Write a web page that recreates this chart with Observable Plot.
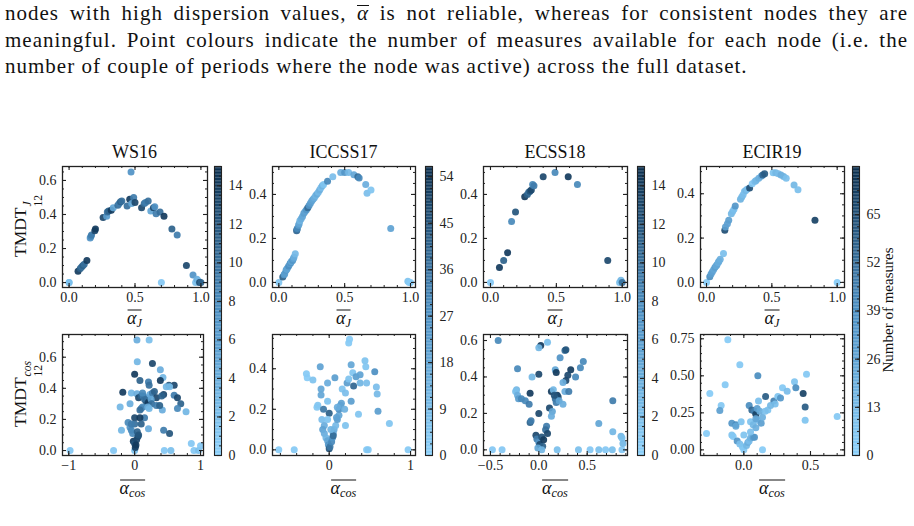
<!DOCTYPE html>
<html>
<head>
<meta charset="utf-8">
<script src="https://cdn.jsdelivr.net/npm/d3@7"></script>
<script src="https://cdn.jsdelivr.net/npm/@observablehq/plot@0.6"></script>
<style>
  body { margin: 0; background: #fff; }
  #fig { position: relative; width: 914px; height: 526px; overflow: hidden;
         font-family: "Liberation Serif", "DejaVu Serif", serif; color: #111; }
  #para { position: absolute; left: 5px; top: 0px; width: 903px; font-family: "Liberation Serif", serif;
          font-size: 21px; line-height: 26.5px; letter-spacing: 1.0px; }
  #para .j { text-align: justify; text-align-last: justify; white-space: nowrap; }
  .pbar { display: inline-block; border-top: 1.2px solid #111; line-height: 13px; padding-top: 1px; }
  .abs { position: absolute; white-space: nowrap; }
  .title { font-size: 18px; transform: translate(-50%, -50%); }
  .xlab { font-size: 18px; transform: translate(-50%, -50%); }
  .xlab .bar { display: inline-block; border-top: 1.2px solid #111; padding-top: 1px; line-height: 12px; }
  .xlab sub { font-size: 0.68em; vertical-align: -0.3em; line-height: 0; }
  .ylab { font-size: 17.5px; transform: translate(-50%, -50%) rotate(-90deg); }
  .ss { display: inline-flex; flex-direction: column; font-size: 0.66em; line-height: 0.95; vertical-align: -0.45em; margin-left: 1px; }
  .cblab { font-size: 15px; transform: translate(-50%, -50%) rotate(-90deg); }
  svg { position: absolute; overflow: visible; }
</style>
</head>
<body>
<div id="fig">
  <div id="para">
    <div class="j">nodes with high dispersion values, <i class="pbar">α</i> is not reliable, whereas for consistent nodes they are</div>
    <div class="j">meaningful. Point colours indicate the number of measures available for each node (i.e. the</div>
    <div>number of couple of periods where the node was active) across the full dataset.</div>
  </div>
</div>
<script>
// ---- dataset names and colour-bar maxima ----
const datasets = ["WS16", "ICCSS17", "ECSS18", "ECIR19"];
const measureMax = [15, 56, 15, 78];
const colorbarTicks = [
  [0, 2, 4, 6, 8, 10, 12, 14],
  [0, 9, 18, 27, 36, 45, 54],
  [0, 2, 4, 6, 8, 10, 12, 14],
  [0, 13, 26, 39, 52, 65]
];

// ---- points: [alpha, TMDT, number of measures] ----
const ws16J = [
  [0.00,0.00,1],[0.00,0.00,2],[0.068,0.066,14],[0.085,0.082,11],[0.095,0.092,10],[0.105,0.10,11],[0.115,0.108,10],
  [0.135,0.13,14],[0.16,0.262,7],[0.165,0.27,8],[0.17,0.28,9],[0.195,0.305,13],[0.20,0.315,14],[0.258,0.383,13],
  [0.285,0.39,6],[0.29,0.415,10],[0.30,0.42,11],[0.32,0.425,14],[0.335,0.44,5],[0.37,0.455,10],[0.38,0.465,9],
  [0.39,0.475,11],[0.40,0.48,10],[0.44,0.45,10],[0.46,0.49,14],[0.475,0.465,5],[0.47,0.65,7],[0.49,0.50,9],
  [0.50,0.47,13],[0.55,0.44,13],[0.57,0.465,10],[0.58,0.47,9],[0.60,0.48,10],[0.62,0.42,5],[0.64,0.44,13],
  [0.65,0.445,7],[0.66,0.405,9],[0.69,0.415,10],[0.72,0.39,14],[0.78,0.315,11],[0.82,0.28,9],[0.89,0.10,13],
  [0.94,0.045,7],[0.70,0.0,1],[0.96,0.0,2],[0.97,0.02,4],[0.98,0.01,3],[0.99,0.0,13],[1.0,0.0,11]
];
const ws16Cos = [
  [-0.98,0.0,1],[-0.32,0.0,1],[0.0,0.0,2],[0.45,0.0,1],[0.55,0.0,2],[0.86,0.045,1],[0.90,0.0,1],[0.97,0.0,2],[1.0,0.03,1],
  [0.035,0.71,4],[0.22,0.71,2],[0.04,0.57,3],[0.27,0.56,13],[0.0,0.49,14],[0.39,0.52,4],[0.43,0.47,3],[0.08,0.45,11],
  [0.21,0.44,9],[0.22,0.42,10],[0.39,0.45,14],[0.52,0.42,12],[0.60,0.42,13],[0.53,0.41,2],[-0.18,0.375,14],[-0.05,0.37,3],
  [0.035,0.365,4],[0.06,0.34,13],[0.10,0.35,11],[0.13,0.35,9],[0.17,0.32,14],[0.20,0.34,9],[0.23,0.36,4],[0.27,0.37,9],
  [0.30,0.38,11],[0.33,0.34,13],[0.15,0.33,10],[0.19,0.30,12],[0.21,0.31,14],[0.25,0.33,5],[0.26,0.30,10],[0.12,0.37,8],
  [0.44,0.36,13],[0.41,0.35,11],[0.48,0.41,3],[0.60,0.355,9],[0.65,0.34,13],[0.70,0.30,11],[0.65,0.27,8],[0.78,0.25,3],
  [0.42,0.26,4],[-0.22,0.28,3],[-0.07,0.30,4],[0.10,0.27,9],[0.12,0.28,8],[0.15,0.21,9],[0.20,0.28,4],[0.22,0.27,3],
  [0.33,0.29,9],[0.38,0.29,11],[0.08,0.26,10],[-0.10,0.18,8],[-0.07,0.15,7],[0.0,0.21,13],[0.0,0.17,10],[0.08,0.21,14],
  [0.10,0.17,11],[-0.20,0.13,3],[-0.05,0.13,8],[0.21,0.14,4],[0.44,0.13,9],[0.53,0.11,12],[-0.03,0.11,8],[0.05,0.09,13],
  [-0.02,0.06,14],[0.0,0.045,12],[0.03,0.07,13],[0.02,0.035,14],[0.01,0.02,14],[-0.05,0.17,9],[0.04,0.12,11],[0.06,0.10,12]
];
const iccss17J = [
  [0,0,5],[0.03,0.025,42],[0.04,0.035,24],[0.045,0.04,22],[0.055,0.055,25],[0.06,0.06,18],[0.065,0.065,20],
  [0.075,0.075,28],[0.085,0.085,22],[0.09,0.09,26],[0.095,0.095,18],[0.105,0.10,25],[0.11,0.108,20],[0.115,0.115,15],
  [0.125,0.13,10],[0.135,0.235,40],[0.138,0.24,36],[0.14,0.245,30],[0.15,0.26,22],[0.155,0.268,18],[0.16,0.28,12],
  [0.17,0.29,15],[0.18,0.30,18],[0.19,0.315,22],[0.2,0.322,20],[0.21,0.33,25],[0.22,0.34,38],[0.23,0.35,26],
  [0.24,0.36,22],[0.25,0.37,20],[0.26,0.378,18],[0.27,0.385,15],[0.28,0.395,12],[0.29,0.402,16],[0.30,0.41,10],
  [0.31,0.42,14],[0.32,0.43,8],[0.33,0.44,12],[0.34,0.445,5],[0.37,0.46,30],[0.41,0.48,8],[0.47,0.50,15],
  [0.50,0.50,25],[0.53,0.50,10],[0.57,0.49,18],[0.60,0.48,38],[0.61,0.475,30],[0.66,0.445,15],[0.67,0.405,8],
  [0.70,0.42,5],[0.85,0.245,20],[0.98,0.005,6],[0.99,0.0,3],[1.0,0.0,2]
];
const iccss17Cos = [
  [-0.62,0,2],[-0.43,0,3],[0.46,0,3],[0.48,0,4],[0.97,0,3],[0.24,0.527,3],[0.25,0.545,2],[-0.28,0.375,3],[-0.27,0.355,2],
  [-0.20,0.345,6],[-0.11,0.41,20],[-0.02,0.33,15],[0.07,0.355,22],[-0.10,0.30,18],[-0.10,0.27,18],[-0.14,0.22,5],
  [-0.15,0.21,4],[-0.02,0.24,6],[-0.07,0.20,35],[0.0,0.18,42],[-0.09,0.15,8],[-0.02,0.15,5],[-0.06,0.12,15],
  [-0.08,0.10,20],[-0.06,0.08,15],[-0.04,0.06,12],[-0.02,0.045,18],[-0.01,0.025,25],[0.0,0.005,45],[0.01,0.015,35],
  [0.03,0.04,30],[0.04,0.06,25],[0.05,0.08,20],[0.06,0.10,15],[0.08,0.12,10],[0.10,0.15,22],[0.12,0.17,18],
  [0.12,0.20,28],[0.14,0.22,22],[0.15,0.23,20],[0.19,0.20,14],[0.16,0.30,6],[0.20,0.28,8],[0.22,0.33,22],[0.24,0.35,6],
  [0.29,0.38,5],[0.27,0.42,18],[0.30,0.315,40],[0.27,0.24,22],[0.33,0.36,22],[0.38,0.37,20],[0.44,0.44,6],[0.45,0.41,5],
  [0.38,0.33,12],[0.46,0.33,8],[0.56,0.385,28],[0.58,0.31,8],[0.59,0.275,10],[0.60,0.19,22],[0.36,0.175,5],
  [0.74,0.13,5],[0.20,0.12,6],[0.09,0.16,20],[0.10,0.21,15],[0.05,0.07,38],[0.02,0.10,12]
];
const ecss18J = [
  [0,0,1],[0.068,0.068,14],[0.10,0.10,11],[0.13,0.135,14],[0.16,0.277,8],[0.19,0.32,12],[0.26,0.39,14],[0.28,0.40,11],
  [0.29,0.41,10],[0.30,0.415,12],[0.31,0.42,13],[0.32,0.445,8],[0.33,0.44,9],[0.40,0.48,13],[0.49,0.50,8],
  [0.59,0.48,14],[0.66,0.445,8],[0.89,0.10,13],[0.98,0.0,2],[0.99,0.01,3],[1.0,0.0,10]
];
const ecss18Cos = [
  [-0.48,0,1],[-0.38,0,1],[-0.42,0.60,8],[0.02,0.573,14],[0.0,0.56,3],[0.09,0.59,2],[0.27,0.545,10],[0.28,0.55,12],
  [0.22,0.505,7],[-0.22,0.445,8],[0.0,0.415,13],[-0.07,0.40,3],[0.17,0.44,5],[0.18,0.425,14],[0.33,0.44,14],
  [0.30,0.41,13],[0.28,0.38,13],[0.25,0.37,4],[0.38,0.40,8],[0.43,0.45,8],[0.46,0.485,8],[-0.23,0.33,3],[-0.24,0.32,2],
  [-0.22,0.30,4],[-0.21,0.28,6],[-0.18,0.28,8],[-0.14,0.27,8],[-0.10,0.25,9],[-0.09,0.31,14],[0.0,0.20,13],
  [-0.09,0.15,11],[-0.08,0.16,9],[0.13,0.32,14],[0.19,0.30,14],[0.20,0.29,13],[0.17,0.28,10],[0.18,0.26,9],
  [0.21,0.27,5],[0.27,0.32,4],[0.31,0.32,9],[0.25,0.25,4],[0.11,0.23,13],[0.14,0.21,5],[0.13,0.185,4],[0.08,0.13,9],
  [0.07,0.11,10],[0.09,0.09,13],[-0.03,0.08,13],[-0.02,0.06,9],[0.0,0.04,7],[0.01,0.03,13],[0.03,0.07,12],
  [0.05,0.055,14],[0.04,0.02,11],[-0.01,0.01,5],[0.03,0.0,3],[0.19,0,2],[0.41,0,2],[0.53,0,1],[0.62,0,2],[0.69,0,1],
  [0.76,0,2],[0.86,0,1],[0.62,0.145,5],[0.765,0.27,9],[0.765,0.10,3],[0.85,0.075,3],[0.86,0.065,2],[0.87,0.035,3],
  [0.15,0.33,3],[0.16,0.30,12]
];
const ecir19J = [
  [0,0,3],[0.025,0.025,40],[0.035,0.038,30],[0.045,0.048,28],[0.055,0.058,25],[0.065,0.068,30],[0.075,0.075,24],
  [0.08,0.08,25],[0.09,0.09,20],[0.095,0.095,22],[0.105,0.105,20],[0.13,0.13,10],[0.14,0.235,65],[0.145,0.25,30],
  [0.16,0.265,28],[0.17,0.28,30],[0.19,0.31,15],[0.20,0.32,12],[0.21,0.33,10],[0.22,0.345,35],[0.26,0.375,18],
  [0.27,0.385,15],[0.28,0.395,12],[0.29,0.41,10],[0.30,0.415,15],[0.31,0.42,12],[0.33,0.426,65],[0.35,0.445,5],
  [0.37,0.455,12],[0.38,0.46,15],[0.40,0.47,20],[0.42,0.48,25],[0.43,0.485,55],[0.445,0.49,60],[0.51,0.495,8],
  [0.53,0.495,15],[0.55,0.49,12],[0.57,0.485,20],[0.59,0.478,18],[0.61,0.47,10],[0.67,0.44,15],[0.70,0.418,10],
  [0.83,0.28,70],[1.0,0.0,3]
];
const ecir19Cos = [
  [-0.12,0.743,3],[-0.03,0.575,5],[0.105,0.50,40],[-0.14,0.44,5],[-0.255,0.38,3],[-0.17,0.30,5],[-0.18,0.265,30],
  [-0.28,0.11,3],[-0.09,0.18,35],[-0.06,0.17,40],[-0.02,0.19,8],[-0.09,0.10,8],[-0.08,0.09,5],[-0.05,0.06,35],
  [-0.03,0.04,10],[-0.01,0.02,8],[0.0,0.0,5],[0.02,0.03,15],[0.03,0.05,20],[0.04,0.06,12],[0.05,0.08,18],
  [0.07,0.085,30],[0.08,0.085,35],[0.14,0.0,3],[0.04,0.30,40],[0.06,0.27,55],[0.08,0.26,45],[0.09,0.24,70],
  [0.10,0.28,30],[0.12,0.26,22],[0.11,0.33,10],[0.163,0.36,60],[0.18,0.27,8],[0.225,0.33,45],[0.235,0.31,10],
  [0.255,0.36,8],[0.275,0.35,35],[0.29,0.42,5],[0.325,0.395,12],[0.38,0.46,8],[0.39,0.42,40],[0.445,0.38,70],
  [0.46,0.29,60],[0.46,0.20,8],[0.47,0.51,5],[0.70,0.225,5],[0.05,0.19,8],[0.07,0.17,15],[0.09,0.15,20],
  [0.10,0.20,12],[0.13,0.18,30],[0.14,0.22,20],[0.16,0.26,10],[0.20,0.30,15],[0.05,0.12,10],[0.0,0.10,8],
  [-0.06,0.16,25],[0.09,0.21,25]
];

// ---- axis tick values ----
const unitTicks = [0, 0.5, 1];
const yTicksWs16J = [0, 0.2, 0.4, 0.6];
const yTicksHalf = [0, 0.2, 0.4];
const xTicksWs16Cos = [-1, 0, 1];
const yTicksWs16Cos = [0, 0.2, 0.4, 0.6];
const xTicksIccss17Cos = [0, 1];
const xTicksEcss18Cos = [-0.5, 0, 0.5];
const yTicksEcss18Cos = [0, 0.2, 0.4, 0.6];
const xTicksEcir19Cos = [0, 0.5];
const yTicksEcir19Cos = [0, 0.25, 0.5, 0.75];

// colour map: light sky blue to deep navy
const cmap = d3.piecewise(d3.interpolateRgb, ["#8bd0fa", "#4c8fc2", "#0a2e4d"]);
const INK = "#222";
const FONT = "Liberation Serif, DejaVu Serif, serif";
const fig = document.getElementById("fig");

function minorTicks(domain, step) {
  const start = Math.ceil(domain[0] / step - 1e-9) * step;
  return d3.range(start, domain[1] + 1e-9, step);
}

function panel(c) {
  const mL = 46, mR = 6, mT = 6, mB = 26;
  const W = c.R - c.L, H = c.B - c.T;
  const xMin = minorTicks(c.xDomain, c.xMinor), yMin = minorTicks(c.yDomain, c.yMinor);
  const svg = Plot.plot({
    width: W + mL + mR, height: H + mT + mB,
    marginLeft: mL, marginRight: mR, marginTop: mT, marginBottom: mB,
    style: {fontFamily: FONT, fontSize: "14px", color: INK, background: "transparent"},
    x: {domain: c.xDomain, axis: null},
    y: {domain: c.yDomain, axis: null},
    color: {type: "linear", domain: [0, c.cmax], interpolate: cmap},
    marks: [
      Plot.dot(c.data, {x: d => d[0], y: d => d[1], fill: d => d[2], r: 3.5, fillOpacity: 0.92}),
      // inward minor and major ticks on all four sides
      Plot.ruleX(xMin, {insetTop: H - 2, stroke: INK}),
      Plot.ruleX(xMin, {insetBottom: H - 2, stroke: INK}),
      Plot.ruleY(yMin, {insetRight: W - 2, stroke: INK}),
      Plot.ruleY(yMin, {insetLeft: W - 2, stroke: INK}),
      Plot.ruleX(c.xTicks, {insetTop: H - 4, stroke: INK, strokeWidth: 1.1}),
      Plot.ruleX(c.xTicks, {insetBottom: H - 4, stroke: INK, strokeWidth: 1.1}),
      Plot.ruleY(c.yTicks, {insetRight: W - 4, stroke: INK, strokeWidth: 1.1}),
      Plot.ruleY(c.yTicks, {insetLeft: W - 4, stroke: INK, strokeWidth: 1.1}),
      Plot.frame({stroke: INK, strokeWidth: 1.3}),
      Plot.axisX(c.xTicks, {tickSize: 0, tickPadding: 5, tickFormat: c.xFmt, fill: INK}),
      Plot.axisY(c.yTicks, {tickSize: 0, tickPadding: 6, tickFormat: c.yFmt, fill: INK})
    ]
  });
  svg.style.left = (c.L - mL) + "px";
  svg.style.top = (c.T - mT) + "px";
  fig.appendChild(svg);
}

function colorbar(c) {
  const mL = 2, mR = 30, mT = 4, mB = 4;
  const W = c.R - c.L, H = c.B - c.T;
  const ramp = d3.range(0, 200).map(i => i * c.cmax / 200);
  const step = c.cmax / 200;
  const minor = minorTicks([0, c.cmax], (c.ticks[1] - c.ticks[0]) / 4);
  const svg = Plot.plot({
    width: W + mL + mR, height: H + mT + mB,
    marginLeft: mL, marginRight: mR, marginTop: mT, marginBottom: mB,
    style: {fontFamily: FONT, fontSize: "14px", color: INK, background: "transparent"},
    x: {domain: [0, 1], axis: null},
    y: {domain: [0, c.cmax], axis: null},
    color: {type: "linear", domain: [0, c.cmax], interpolate: cmap},
    marks: [
      Plot.rect(ramp, {y1: d => d, y2: d => d + step * 1.05, fill: d => d + step / 2}),
      Plot.ruleY(minor, {insetLeft: W - 2, stroke: INK}),
      Plot.ruleY(c.ticks, {insetLeft: W - 4, stroke: INK, strokeWidth: 1.1}),
      Plot.frame({stroke: INK, strokeWidth: 1.1}),
      Plot.axisY(c.ticks, {anchor: "right", tickSize: 0, tickPadding: 7, tickFormat: d3.format("d"), fill: INK})
    ]
  });
  svg.style.left = (c.L - mL) + "px";
  svg.style.top = (c.T - mT) + "px";
  fig.appendChild(svg);
}

function addHTML(cls, x, y, html) {
  const el = document.createElement("div");
  el.className = "abs " + cls;
  el.style.left = x + "px";
  el.style.top = y + "px";
  el.innerHTML = html;
  fig.appendChild(el);
}

const f1 = d3.format(".1f"), f0 = d3.format("d"), f2 = d3.format(".2f");

const panels = [
  // top row: Jaccard-based
  {data: ws16J, L: 62, T: 166, R: 207, B: 287, xDomain: [-0.05, 1.05], yDomain: [-0.029, 0.682],
   xTicks: unitTicks, yTicks: yTicksWs16J, xMinor: 0.1, yMinor: 0.05, xFmt: f1, yFmt: f1, cmax: measureMax[0]},
  {data: iccss17J, L: 272, T: 166, R: 415, B: 287, xDomain: [-0.048, 1.038], yDomain: [-0.023, 0.527],
   xTicks: unitTicks, yTicks: yTicksHalf, xMinor: 0.1, yMinor: 0.05, xFmt: f1, yFmt: f1, cmax: measureMax[1]},
  {data: ecss18J, L: 483, T: 166, R: 627, B: 287, xDomain: [-0.053, 1.04], yDomain: [-0.023, 0.527],
   xTicks: unitTicks, yTicks: yTicksHalf, xMinor: 0.1, yMinor: 0.05, xFmt: f1, yFmt: f1, cmax: measureMax[2]},
  {data: ecir19J, L: 700, T: 166, R: 844, B: 287, xDomain: [-0.046, 1.056], yDomain: [-0.023, 0.523],
   xTicks: unitTicks, yTicks: yTicksHalf, xMinor: 0.1, yMinor: 0.05, xFmt: f1, yFmt: f1, cmax: measureMax[3]},
  // bottom row: cosine-based
  {data: ws16Cos, L: 62, T: 334, R: 203, B: 455, xDomain: [-1.095, 1.045], yDomain: [-0.032, 0.746],
   xTicks: xTicksWs16Cos, yTicks: yTicksWs16Cos, xMinor: 0.2, yMinor: 0.05, xFmt: f0, yFmt: f1, cmax: measureMax[0]},
  {data: iccss17Cos, L: 272, T: 334, R: 415, B: 455, xDomain: [-0.697, 1.061], yDomain: [-0.028, 0.569],
   xTicks: xTicksIccss17Cos, yTicks: yTicksHalf, xMinor: 0.2, yMinor: 0.05, xFmt: f0, yFmt: f1, cmax: measureMax[1]},
  {data: ecss18Cos, L: 483, T: 334, R: 627, B: 455, xDomain: [-0.572, 0.917], yDomain: [-0.031, 0.633],
   xTicks: xTicksEcss18Cos, yTicks: yTicksEcss18Cos, xMinor: 0.1, yMinor: 0.05, xFmt: f1, yFmt: f1, cmax: measureMax[2]},
  {data: ecir19Cos, L: 700, T: 334, R: 844, B: 455, xDomain: [-0.325, 0.755], yDomain: [-0.038, 0.779],
   xTicks: xTicksEcir19Cos, yTicks: yTicksEcir19Cos, xMinor: 0.1, yMinor: 0.05, xFmt: f1, yFmt: f2, cmax: measureMax[3]}
];
panels.forEach(panel);

const barX = [214, 425, 637, 852];
barX.forEach((x, i) => colorbar({L: x, R: x + 7, T: 166, B: 455, cmax: measureMax[i], ticks: colorbarTicks[i]}));

// column titles and x labels
panels.slice(0, 4).forEach((p, i) => {
  addHTML("title", (p.L + p.R) / 2, 152, datasets[i]);
  addHTML("xlab", (p.L + p.R) / 2, 318, '<span class="bar"><i>α</i><sub><i>J</i></sub></span>');
});
panels.slice(4).forEach(p => {
  addHTML("xlab", (p.L + p.R) / 2, 488, '<span class="bar"><i>α</i><sub><i>cos</i></sub></span>');
});

// row labels
addHTML("ylab", 27, 226, 'TMDT<span class="ss"><i>J</i><span>12</span></span>');
addHTML("ylab", 27, 394, 'TMDT<span class="ss"><i>cos</i><span>12</span></span>');

// colour-bar label
addHTML("cblab", 888, 310, "Number of measures");
</script>
</body>
</html>
